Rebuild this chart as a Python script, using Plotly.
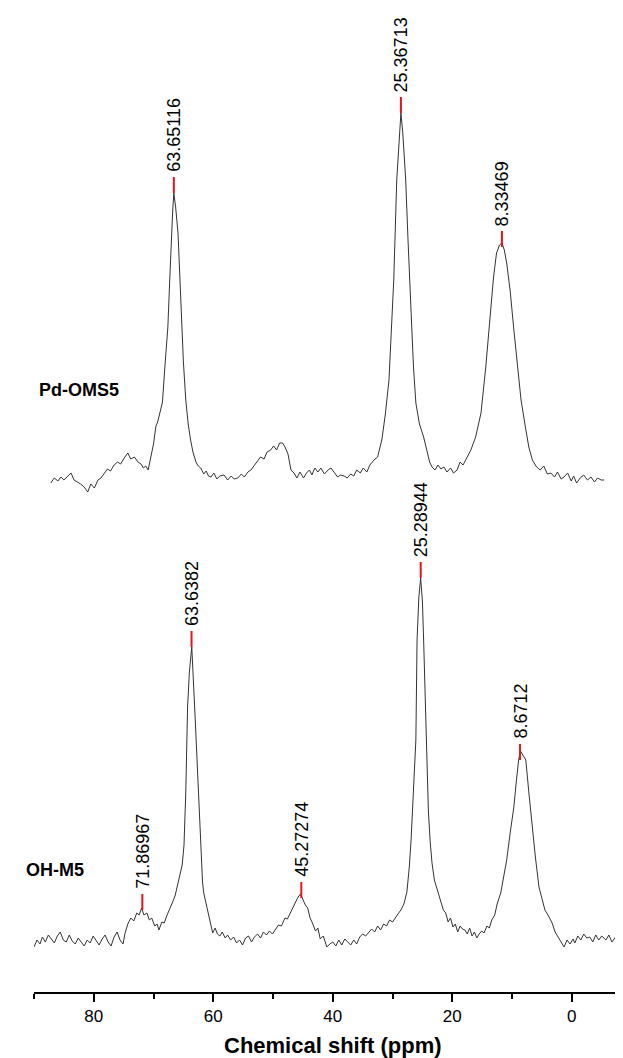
import plotly.graph_objects as go

# ---------------- data ----------------
# Upper spectrum: Pd-OMS5   (chemical shift in ppm, intensity in arbitrary units)
pd_ppm = [87.2, 86.6, 86.0, 85.5, 85.0, 84.4, 83.8, 83.3, 82.7, 82.2, 81.6, 81.0, 80.5, 79.9, 79.3,
          78.8, 78.2, 77.7, 77.2, 76.6, 76.0, 75.5, 74.9, 74.3, 73.8, 73.2, 72.6, 72.1, 71.7, 71.3,
          70.9, 70.5, 70.0, 69.6, 69.3, 68.9, 68.5, 68.1, 67.6, 67.3, 67.1, 66.8, 66.6, 66.3, 65.9,
          65.6, 65.4, 65.0, 64.6, 64.2, 63.8, 63.4, 62.9, 62.5, 62.1, 61.6, 61.2, 60.8, 60.4, 59.9,
          59.4, 58.9, 58.2, 57.6, 57.0, 56.5, 55.9, 55.3, 54.8, 54.2, 53.7, 53.1, 52.6, 52.1, 51.5,
          51.0, 50.4, 49.9, 49.4, 48.9, 48.4, 48.0, 47.5, 47.0, 46.5, 46.0, 45.5, 44.9, 44.4, 43.9,
          43.5, 43.0, 42.5, 42.0, 41.4, 40.8, 40.3, 39.7, 39.2, 38.7, 38.1, 37.6, 37.0, 36.5, 36.0,
          35.4, 34.9, 34.3, 33.8, 33.1, 32.5, 31.8, 31.2, 30.6, 30.2, 29.8, 29.3, 28.9, 28.6, 28.3,
          27.8, 27.4, 26.9, 26.5, 26.1, 25.5, 24.8, 24.2, 23.8, 23.4, 22.9, 22.4, 21.9, 21.4, 20.9,
          20.3, 19.8, 19.2, 18.7, 18.2, 17.5, 16.9, 16.1, 15.2, 14.4, 13.6, 13.1, 12.6, 12.1, 11.7,
          11.3, 10.9, 10.3, 9.7, 9.1, 8.5, 7.8, 7.2, 6.6, 5.9, 5.3, 4.7, 4.1, 3.5, 2.9,
          2.4, 1.8, 1.3, 0.7, 0.1, -0.3, -0.8, -1.4, -2.0, -2.6, -3.2, -3.8, -4.3, -4.9, -5.4]
pd_int = [509, 514, 511, 515, 512, 516, 519, 512, 510, 508, 505, 500, 508, 504, 512,
          514, 519, 523, 521, 527, 530, 528, 534, 539, 533, 535, 530, 528, 524, 526,
          522, 535, 548, 566, 570, 580, 590, 625, 665, 710, 742, 780, 799, 785, 759,
          715, 675, 630, 592, 568, 552, 540, 530, 526, 524, 518, 521, 516, 515, 519,
          513, 516, 517, 512, 516, 513, 514, 518, 515, 520, 522, 527, 531, 535, 533,
          540, 542, 546, 542, 549, 549, 545, 538, 522, 519, 514, 520, 514, 519, 522,
          517, 524, 520, 524, 518, 522, 524, 519, 515, 517, 516, 514, 518, 516, 522,
          519, 524, 520, 527, 532, 535, 552, 578, 612, 660, 712, 812, 855, 879, 860,
          812, 750, 679, 625, 589, 568, 555, 540, 530, 525, 522, 527, 523, 525, 520,
          524, 519, 522, 530, 527, 536, 542, 555, 579, 625, 679, 715, 739, 747, 749,
          742, 729, 700, 662, 625, 592, 566, 545, 532, 525, 522, 526, 518, 519, 515,
          520, 513, 515, 519, 511, 516, 509, 514, 517, 512, 515, 510, 514, 512, 512]

# Lower spectrum: OH-M5
oh_ppm = [90.0, 89.5, 89.0, 88.6, 88.1, 87.6, 87.1, 86.6, 86.1, 85.6, 85.1, 84.6, 84.1, 83.6, 83.1,
          82.6, 82.1, 81.6, 81.1, 80.6, 80.1, 79.6, 79.1, 78.6, 78.1, 77.6, 77.1, 76.6, 76.1, 75.6,
          75.1, 74.8, 74.3, 73.8, 73.3, 72.8, 72.4, 72.0, 71.6, 71.1, 70.7, 70.3, 69.8, 69.4, 69.1,
          68.6, 68.2, 67.8, 67.3, 66.8, 66.4, 66.0, 65.6, 65.2, 64.9, 64.6, 64.3, 64.0, 63.6, 63.3,
          63.0, 62.7, 62.4, 62.1, 61.8, 61.6, 61.1, 60.8, 60.4, 60.1, 59.7, 59.3, 58.9, 58.5, 58.0,
          57.6, 57.1, 56.6, 56.1, 55.6, 55.1, 54.6, 54.1, 53.6, 53.1, 52.6, 52.1, 51.6, 51.1, 50.6,
          50.1, 49.6, 49.1, 48.6, 48.0, 47.6, 47.1, 46.7, 46.3, 45.8, 45.4, 45.0, 44.6, 44.2, 43.8,
          43.4, 42.9, 42.5, 42.1, 41.6, 41.0, 40.5, 40.0, 39.5, 39.0, 38.5, 38.0, 37.5, 37.0, 36.5,
          36.0, 35.5, 35.0, 34.5, 34.0, 33.5, 33.0, 32.5, 32.0, 31.5, 31.0, 30.5, 30.0, 29.5, 29.1,
          28.6, 28.1, 27.6, 27.2, 26.9, 26.5, 26.1, 25.9, 25.6, 25.3, 25.0, 24.8, 24.5, 24.3, 24.0,
          23.7, 23.4, 23.0, 22.6, 22.3, 21.9, 21.5, 21.1, 20.7, 20.3, 19.9, 19.5, 19.1, 18.7, 18.3,
          17.9, 17.5, 17.1, 16.7, 16.3, 15.9, 15.5, 15.1, 14.7, 14.2, 13.8, 13.4, 12.9, 12.5, 11.9,
          11.4, 10.9, 10.3, 9.7, 9.3, 8.9, 8.6, 8.4, 8.0, 7.7, 7.2, 6.7, 6.1, 5.5, 5.0,
          4.5, 3.9, 3.3, 2.8, 2.3, 1.8, 1.3, 0.8, 0.3, -0.2, -0.5, -1.0, -1.5, -2.0, -2.5,
          -3.0, -3.5, -4.0, -4.5, -5.0, -5.7, -6.2, -6.7, -7.2, -7.7, -8.2, -8.7, -9.2, -9.8]
oh_int = [45, 52, 48, 55, 50, 57, 53, 49, 56, 60, 52, 50, 57, 51, 48,
          54, 50, 46, 52, 49, 56, 51, 47, 53, 57, 50, 46, 55, 60, 52,
          48, 58, 68, 74, 71, 79, 77, 84, 77, 79, 72, 74, 66, 68, 62,
          70, 69, 76, 84, 90, 96, 106, 114, 127, 147, 200, 285, 320, 345, 312,
          270, 230, 192, 140, 110, 99, 85, 75, 66, 59, 64, 58, 56, 60, 54,
          57, 52, 55, 49, 52, 47, 54, 56, 50, 55, 58, 54, 60, 57, 61,
          58, 63, 67, 66, 74, 73, 80, 84, 89, 95, 98, 92, 87, 84, 74,
          69, 61, 64, 53, 56, 45, 48, 50, 46, 52, 47, 53, 50, 47, 52,
          48, 55, 58, 56, 60, 63, 60, 66, 62, 68, 66, 72, 70, 75, 78,
          82, 88, 100, 125, 152, 200, 252, 352, 395, 414, 390, 352, 285, 219, 180,
          150, 129, 112, 104, 99, 92, 82, 79, 70, 74, 65, 68, 60, 66, 63,
          62, 58, 64, 56, 60, 54, 58, 61, 59, 66, 64, 72, 77, 88, 99,
          115, 132, 160, 185, 210, 232, 241, 239, 236, 232, 200, 169, 135, 105, 92,
          82, 76, 69, 60, 55, 50, 45, 52, 48, 53, 49, 56, 52, 58, 54,
          55, 50, 57, 52, 56, 52, 57, 50, 54, 58, 51, 55, 50, 54]

# Peak picks: marker position, marker base intensity, printed label
pd_peak_ppm = [66.6, 28.6, 11.7]
pd_peak_int = [799, 879, 745]
pd_peak_lbl = ["63.65116", "25.36713", "8.33469"]

oh_peak_ppm = [71.87, 63.64, 45.27, 25.29, 8.67]
oh_peak_int = [82, 345, 94, 414, 232]
oh_peak_lbl = ["71.86967", "63.6382", "45.27274", "25.28944", "8.6712"]

marker_len = 16

tick_vals = [80, 60, 40, 20, 0]
tick_text = ["80", "60", "40", "20", "0"]
x_range = [90.0, -9.9]

PLOT_H = 984
PLOT_L = 26
PLOT_W = 623 - PLOT_L

FONT = "Liberation Sans, Arial, sans-serif"

# ---------------- figure ----------------
fig = go.Figure()

for xs, ys in [(pd_ppm, pd_int), (oh_ppm, oh_int)]:
    fig.add_trace(go.Scatter(x=xs, y=ys, mode="lines",
                             line=dict(color="#333333", width=1),
                             hoverinfo="skip", showlegend=False))

mx, my = [], []
for p, b in list(zip(pd_peak_ppm, pd_peak_int)) + list(zip(oh_peak_ppm, oh_peak_int)):
    mx += [p, p, None]
    my += [b, b + marker_len, None]
fig.add_trace(go.Scatter(x=mx, y=my, mode="lines",
                         line=dict(color="#e8141c", width=2),
                         hoverinfo="skip", showlegend=False))

label_font = dict(family=FONT, size=18, color="black")
for p, b, t in list(zip(pd_peak_ppm, pd_peak_int, pd_peak_lbl)) + list(zip(oh_peak_ppm, oh_peak_int, oh_peak_lbl)):
    fig.add_annotation(x=p, y=b + marker_len, xref="x", yref="y", text=t,
                       textangle=-90, showarrow=False, xanchor="center", yanchor="bottom",
                       yshift=4, font=label_font, borderpad=0)

# sample names (left-aligned, placed in paper x so they may sit left of the axis range)
name_font = dict(family=FONT, size=18, color="black")
fig.add_annotation(x=(29 - PLOT_L) / PLOT_W, y=602, xref="paper", yref="y",
                   text="<b>Pd-OMS5</b>", showarrow=False, xanchor="left", yanchor="middle",
                   font=name_font)
fig.add_annotation(x=(16 - PLOT_L) / PLOT_W, y=122, xref="paper", yref="y",
                   text="<b>OH-M5</b>", showarrow=False, xanchor="left", yanchor="middle",
                   font=name_font)

fig.add_annotation(x=0.5, y=-53 / PLOT_H, xref="paper", yref="paper",
                   text="<b>Chemical shift (ppm)</b>", showarrow=False,
                   xanchor="center", yanchor="middle",
                   font=dict(family=FONT, size=22, color="black"))

fig.update_layout(
    width=623, height=1058,
    margin=dict(l=PLOT_L, r=0, t=0, b=1058 - PLOT_H),
    paper_bgcolor="white", plot_bgcolor="white",
    showlegend=False,
    xaxis=dict(range=x_range, showgrid=False, zeroline=False,
               showline=True, linecolor="black", linewidth=2,
               ticks="outside", ticklen=8, tickwidth=1.5, tickcolor="black",
               tickvals=tick_vals, ticktext=tick_text,
               tickfont=dict(family=FONT, size=17, color="black"),
               minor=dict(dtick=10, tick0=0, ticks="outside", ticklen=5, tickwidth=1.5, tickcolor="black"),
               fixedrange=True),
    yaxis=dict(range=[0, PLOT_H], visible=False, fixedrange=True),
)

fig.write_html("out.html")
